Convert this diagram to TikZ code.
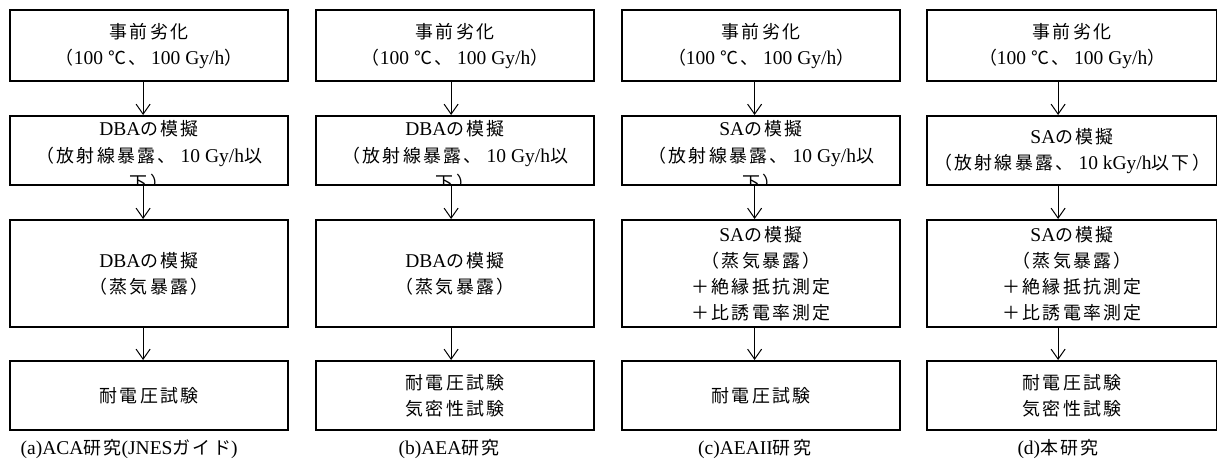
\documentclass[tikz,border=0pt]{standalone}
\usepackage{fontspec}
\setmainfont{Liberation Serif}
\newfontfamily\jpf{Noto Sans CJK JP}[Scale=0.92,LetterSpace=13]
\newcommand\J[1]{{\jpf #1}}
\usetikzlibrary{arrows.meta}
\tikzset{
  box/.style={draw=black, line width=2.2pt, anchor=north west, inner sep=0pt, align=center},
  txt/.style={align=center, inner sep=0pt, font=\fontsize{19.5}{27}\selectfont},
  arr/.style={draw=black, line width=1pt, -{Straight Barb[length=10pt,width=14pt,line width=1pt]}},
  captxt/.style={inner sep=0pt},
  wa/.style={minimum width=278pt},
  wd/.style={minimum width=290pt},
  h1/.style={minimum height=71pt},
  h2/.style={minimum height=69pt},
  h3/.style={minimum height=107pt},
  h4/.style={minimum height=69pt},
}
\begin{document}
\begin{tikzpicture}[x=1pt,y=-1pt,font=\fontsize{19.5}{26}\selectfont]
\useasboundingbox (0,0) rectangle (1217,463);
% row 1
\node[box,wa,h1] (a1) at (9,9) {\J{事前劣化}\\\J{（}100 \J{℃、} 100 Gy/h\J{）}};
\node[box,wa,h1] (b1) at (315,9) {\J{事前劣化}\\\J{（}100 \J{℃、} 100 Gy/h\J{）}};
\node[box,wa,h1] (c1) at (621,9) {\J{事前劣化}\\\J{（}100 \J{℃、} 100 Gy/h\J{）}};
\node[box,wd,h1] (d1) at (926,9) {\J{事前劣化}\\\J{（}100 \J{℃、} 100 Gy/h\J{）}};
% row 2
\node[box,wa,h2] (a2) at (9,115) {};
\node[box,wa,h2] (b2) at (315,115) {};
\node[box,wa,h2] (c2) at (621,115) {};
\node[box,wd,h2] (d2) at (926,115) {SA\J{の模擬}\\\J{（放射線暴露、} 10 kGy/h\J{以下）}};
\begin{scope}
\clip ([xshift=1pt,yshift=1pt]a2.south west) rectangle ([xshift=-1pt,yshift=-1pt]a2.north east);
\node[txt] (a2t) at ([yshift=-5.5pt]a2.center) {DBA\J{の模擬}\\\J{（放射線暴露、} 10 Gy/h\J{以}\\\J{下）}};
\end{scope}
\begin{scope}
\clip ([xshift=1pt,yshift=1pt]b2.south west) rectangle ([xshift=-1pt,yshift=-1pt]b2.north east);
\node[txt] (b2t) at ([yshift=-5.5pt]b2.center) {DBA\J{の模擬}\\\J{（放射線暴露、} 10 Gy/h\J{以}\\\J{下）}};
\end{scope}
\begin{scope}
\clip ([xshift=1pt,yshift=1pt]c2.south west) rectangle ([xshift=-1pt,yshift=-1pt]c2.north east);
\node[txt] (c2t) at ([yshift=-5.5pt]c2.center) {SA\J{の模擬}\\\J{（放射線暴露、} 10 Gy/h\J{以}\\\J{下）}};
\end{scope}
% row 3
\node[box,wa,h3] (a3) at (9,219) {DBA\J{の模擬}\\\J{（蒸気暴露）}};
\node[box,wa,h3] (b3) at (315,219) {DBA\J{の模擬}\\\J{（蒸気暴露）}};
\node[box,wa,h3] (c3) at (621,219) {SA\J{の模擬}\\\J{（蒸気暴露）}\\\J{＋絶縁抵抗測定}\\\J{＋比誘電率測定}};
\node[box,wd,h3] (d3) at (926,219) {SA\J{の模擬}\\\J{（蒸気暴露）}\\\J{＋絶縁抵抗測定}\\\J{＋比誘電率測定}};
% row 4
\node[box,wa,h4] (a4) at (9,360) {\J{耐電圧試験}};
\node[box,wa,h4] (b4) at (315,360) {\J{耐電圧試験}\\\J{気密性試験}};
\node[box,wa,h4] (c4) at (621,360) {\J{耐電圧試験}};
\node[box,wd,h4] (d4) at (926,360) {\J{耐電圧試験}\\\J{気密性試験}};
% arrows
\foreach \c/\s in {a/-6pt,b/-4pt,c/-6.5pt,d/-14pt}{
  \draw[arr] ([xshift=\s]\c1.south) -- ([xshift=\s]\c2.north);
  \draw[arr] ([xshift=\s]\c2.south) -- ([xshift=\s]\c3.north);
  \draw[arr] ([xshift=\s]\c3.south) -- ([xshift=\s]\c4.north);
}
% captions
\node[captxt] (ca) at ([xshift=-20pt,yshift=-18pt]a4.south) {(a)ACA\J{研究}(JNES\J{ガイド})};
\node[captxt] (cb) at ([xshift=-6pt,yshift=-18pt]b4.south) {(b)AEA\J{研究}};
\node[captxt] (cc) at ([xshift=-6.5pt,yshift=-18pt]c4.south) {(c)AEAII\J{研究}};
\node[captxt] (cd) at ([xshift=-14pt,yshift=-18pt]d4.south) {(d)\J{本研究}};
\end{tikzpicture}
\end{document}
